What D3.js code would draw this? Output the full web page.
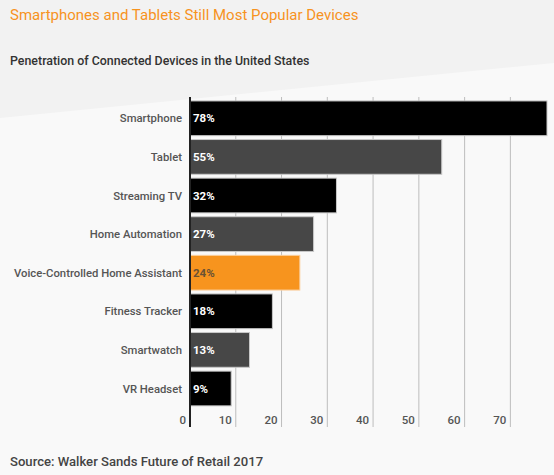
<!DOCTYPE html>
<html><head><meta charset="utf-8">
<script src="https://cdn.jsdelivr.net/npm/d3@7"></script>
<style>
html,body{margin:0;padding:0;background:#f9f9f9;}
svg{display:block;font-family:Roboto,"Noto Sans",sans-serif;}
</style></head>
<body>
<svg id="c" width="554" height="475"></svg>
<script>
const categories = ["Smartphone","Tablet","Streaming TV","Home Automation","Voice-Controlled Home Assistant","Fitness Tracker","Smartwatch","VR Headset"];
const values = [78,55,32,27,24,18,13,9];
const valueLabels = ["78%","55%","32%","27%","24%","18%","13%","9%"];
const barColors = ["#000000","#474747","#000000","#474747","#F7941E","#000000","#474747","#000000"];
const tickValues = [0,10,20,30,40,50,60,70];

const svg = d3.select("#c");
// background
svg.append("rect").attr("width",554).attr("height",475).attr("fill","#f9f9f9");
svg.append("path").attr("d","M0,0 L554,0 L554,63 L0,118 Z").attr("fill","#f2f2f2");

const x = d3.scaleLinear().domain([0,78]).range([190,547]);
const y = d3.scaleBand().domain(categories).range([99,407.8]).paddingInner(0.1).paddingOuter(0.05);

// gridlines
const g = svg.append("g");
g.selectAll("line.grid").data(tickValues.slice(1)).join("line")
  .attr("class","grid")
  .attr("x1",d=>x(d)).attr("x2",d=>x(d))
  .attr("y1",97).attr("y2",427)
  .attr("stroke","#bdbdbd").attr("stroke-width",1);

// tick labels
g.selectAll("text.tick").data(tickValues).join("text")
  .attr("class","tick")
  .attr("x",d=>x(d)-4).attr("y",424)
  .attr("text-anchor","end")
  .attr("font-size",11.5).attr("font-weight",500).attr("fill","#555")
  .text(d=>d);

// bars
const data = categories.map((c,i)=>({c,v:values[i],l:valueLabels[i],col:barColors[i]}));
g.selectAll("rect.bar").data(data).join("rect")
  .attr("class","bar")
  .attr("x",x(0)).attr("y",d=>y(d.c))
  .attr("width",d=>x(d.v)-x(0)).attr("height",y.bandwidth())
  .attr("fill",d=>d.col)
  .attr("stroke",d=>d.col==="#F7941E"?"#fbd0a0":"#c8c8c8").attr("stroke-width",1);

// axis line
svg.append("line").attr("x1",x(0)).attr("x2",x(0)).attr("y1",97).attr("y2",427)
  .attr("stroke","#222").attr("stroke-width",2);

// value labels
g.selectAll("text.val").data(data).join("text")
  .attr("class","val")
  .attr("x",x(0)+3).attr("y",d=>y(d.c)+y.bandwidth()/2+4)
  .attr("font-size",11.5).attr("font-weight",700)
  .attr("fill",d=>d.col==="#F7941E"?"#6a5234":"#ffffff")
  .text(d=>d.l);

// category labels
g.selectAll("text.cat").data(data).join("text")
  .attr("class","cat")
  .attr("x",182).attr("y",d=>y(d.c)+y.bandwidth()/2+4)
  .attr("text-anchor","end")
  .attr("font-size",11.3).attr("font-weight",500).attr("fill","#555")
  .text(d=>d.c);

// titles
svg.append("text").attr("x",10).attr("y",20).attr("font-size",15).attr("fill","#F7931E")
  .text("Smartphones and Tablets Still Most Popular Devices");
svg.append("text").attr("x",10).attr("y",65).attr("font-size",12.4).attr("font-weight",500).attr("fill","#333")
  .text("Penetration of Connected Devices in the United States");
svg.append("text").attr("x",10).attr("y",466).attr("font-size",13.1).attr("font-weight",500).attr("fill","#444")
  .text("Source: Walker Sands Future of Retail 2017");
</script>
</body></html>
